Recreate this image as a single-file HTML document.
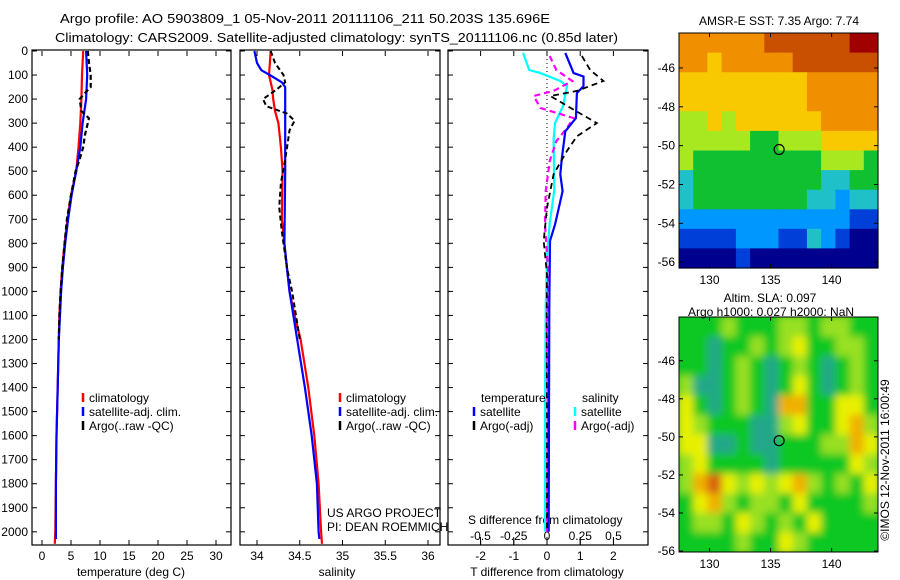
<!DOCTYPE html>
<html><head><meta charset="utf-8"><style>
html,body{margin:0;padding:0;background:#fff;}
svg{display:block;font-family:"Liberation Sans",sans-serif;}
text{font-size:12px;fill:#000;}
</style></head><body>
<svg id="fig" width="900" height="580" viewBox="0 0 900 580">
<defs>
<filter id="blur" x="-10%" y="-10%" width="120%" height="120%"><feGaussianBlur stdDeviation="4"/></filter>
<clipPath id="clipSla"><rect x="679" y="317" width="199" height="235"/></clipPath>
</defs>
<text x="60" y="23" textLength="490" lengthAdjust="spacingAndGlyphs" style="font-size:13px">Argo profile: AO 5903809_1 05-Nov-2011 20111106_211 50.203S 135.696E</text>
<text x="55" y="42" textLength="563" lengthAdjust="spacingAndGlyphs" style="font-size:13px">Climatology: CARS2009. Satellite-adjusted climatology: synTS_20111106.nc (0.85d later)</text>
<g id="g"></g>
</svg>
<script>
// ---- data ----
const depthTicks=[0,100,200,300,400,500,600,700,800,900,1000,1100,1200,1300,1400,1500,1600,1700,1800,1900,2000];
const tempTicks=[0,5,10,15,20,25,30];
const salTicks=[34,34.5,35,35.5,36];
const salTickLabels=["34","34.5","35","35.5","36"];
const tdTicks=[-2,-1,0,1,2];
const sdTicks=[-0.5,-0.25,0,0.25,0.5];
const sdTickLabels=["-0.5","-0.25","0","0.25","0.5"];

const tClimDepth=[0,100,200,300,400,500,600,700,800,900,1000,1100,1200,1400,1600,1800,2000,2050];
const tClimVal=[7.1,6.9,6.8,6.6,6.3,5.9,5.0,4.4,3.9,3.5,3.2,3.0,2.9,2.7,2.5,2.4,2.3,2.2];
const tSatDepth=[0,100,200,300,400,500,600,700,800,900,1000,1100,1200,1400,1600,1800,2000,2030];
const tSatVal=[7.6,7.8,7.6,7.0,6.6,5.9,5.1,4.5,4.0,3.6,3.3,3.1,2.9,2.7,2.5,2.4,2.4,2.4];
const tArgoDepth=[0,50,100,150,180,200,250,280,300,350,400,450,500,600,700,800,900,1000,1100,1200];
const tArgoVal=[7.9,8.1,8.4,8.4,7.2,6.5,6.8,8.1,7.9,7.4,7.1,6.5,5.8,5.0,4.3,3.9,3.5,3.2,3.0,2.9];

const sClimDepth=[0,100,160,200,250,300,400,500,700,900,1000,1100,1200,1400,1600,1800,2000,2050];
const sClimVal=[34.16,34.14,34.18,34.19,34.21,34.25,34.28,34.30,34.29,34.35,34.38,34.44,34.51,34.60,34.67,34.72,34.75,34.76];
const sSatDepth=[0,50,80,100,130,150,200,500,800,900,1000,1200,1400,1600,1800,2000,2030];
const sSatVal=[33.97,34.0,34.05,34.15,34.29,34.33,34.33,34.33,34.32,34.35,34.38,34.47,34.56,34.64,34.70,34.72,34.73];
const sArgoDepth=[0,50,100,130,160,200,230,260,290,330,380,450,550,650,750,900,1000,1200];
const sArgoVal=[34.16,34.21,34.31,34.33,34.23,34.07,34.11,34.35,34.44,34.38,34.36,34.33,34.28,34.26,34.29,34.35,34.41,34.50];

const dSSatDepth=[8,79,92,125,146,229,300,369,578,717,855,1065,1500,2000];
const dSSatVal=[-0.18,-0.134,-0.05,0.1,0.15,0.12,0.06,0.05,0.055,0.02,0.0,-0.01,-0.015,-0.015];
const dSArgoDepth=[21,79,125,166,187,237,279,320,375,458,583,722,930,1140,1500,2000];
const dSArgoVal=[0.02,0.07,0.19,0.05,-0.10,-0.05,0.2,0.15,0.07,0.02,-0.01,-0.015,0.01,0.0,0.005,0.0];
const dTSatDepth=[8,92,106,146,175,279,334,444,513,583,722,790,1065,1500,2000];
const dTSatVal=[0.55,0.8,1.1,1.1,0.9,0.87,0.55,0.45,0.4,0.47,0.24,0.09,0.07,0.06,0.05];
const dTArgoDepth=[21,79,125,166,187,244,300,355,416,513,652,790,930,1140,1500,2000];
const dTArgoVal=[1.05,1.3,1.7,0.9,0.1,0.8,1.5,0.9,0.6,0.2,0.0,-0.1,0.0,-0.01,0.0,0.0];

const lonTicks=[130,135,140];
const latTicks=[-46,-48,-50,-52,-54,-56];
const sstGrid=[
"77777788888899","77677777888888","66666666677777","66666666677777",
"55656666667777","55555445556666","54444444445554","34444444443344",
"34444444433233","22222222222211","11112221132100","00001000000000"];
const slaGrid=[
"44454445545544","44344545644554","44345434543454","53345434643454",
"64345437744664","65444335644675","66334334445576","56444434444465",
"57865656754546","46754554644445","45546545464444","44445446544444"];
const argoLon=135.7, argoLat=-50.2;

// ---- helpers ----
const NS="http://www.w3.org/2000/svg";
const G=document.getElementById('g');
function el(tag,attrs,parent){const e=document.createElementNS(NS,tag);for(const k in attrs)e.setAttribute(k,attrs[k]);(parent||G).appendChild(e);return e;}
const TOP=51,BOT=545;
function yD(d){return 51+d*0.2404;}
const panels=[
 {x0:32,x1:231,fx:v=>42+v*5.8},
 {x0:240,x1:440,fx:v=>257+(v-34)*85.5},
 {x0:448,x1:648,fx:v=>547+v*33.2}
];
const fS=v=>547+v*133;

function line(xs,ys,fx,color,dash,w,name){
  const pts=xs.map((v,i)=>fx(v).toFixed(1)+','+yD(ys[i]).toFixed(1)).join(' ');
  const p=el('polyline',{points:pts,fill:'none',stroke:color,'stroke-width':w||2.2});
  if(dash)p.setAttribute('stroke-dasharray',dash);
  
  
}
function txt(x,y,s,anchor,name,extra){
  const t=el('text',Object.assign({x:x,y:y,'text-anchor':anchor||'start'},extra||{}));t.textContent=s;
  
  
  return t;
}

// frames and ticks
panels.forEach((p,i)=>{
  const r=el('rect',{x:p.x0,y:TOP-1,width:p.x1-p.x0,height:BOT-TOP+1,fill:'none',stroke:'#000','stroke-width':1.2});
  
  
  depthTicks.forEach(d=>{
    el('line',{x1:p.x0,x2:p.x0+5,y1:yD(d),y2:yD(d),stroke:'#000'});
    el('line',{x1:p.x1-5,x2:p.x1,y1:yD(d),y2:yD(d),stroke:'#000'});
  });
});
depthTicks.forEach(d=>txt(28,yD(d)+4,String(d),'end','depth-tick-label'));
tempTicks.forEach(v=>{const x=panels[0].fx(v);el('line',{x1:x,x2:x,y1:TOP,y2:TOP+5,stroke:'#000'});el('line',{x1:x,x2:x,y1:BOT-5,y2:BOT,stroke:'#000'});txt(x,560,String(v),'middle','temp-tick-label');});
salTicks.forEach((v,i)=>{const x=panels[1].fx(v);el('line',{x1:x,x2:x,y1:TOP,y2:TOP+5,stroke:'#000'});el('line',{x1:x,x2:x,y1:BOT-5,y2:BOT,stroke:'#000'});txt(x,560,salTickLabels[i],'middle','sal-tick-label');});
tdTicks.forEach(v=>{const x=panels[2].fx(v);el('line',{x1:x,x2:x,y1:TOP,y2:TOP+5,stroke:'#000'});el('line',{x1:x,x2:x,y1:BOT-5,y2:BOT,stroke:'#000'});txt(x,560,String(v),'middle','tdiff-tick-label');});
sdTicks.forEach((v,i)=>{const x=fS(v);el('line',{x1:x,x2:x,y1:BOT-8,y2:BOT,stroke:'#000'});txt(x,540,sdTickLabels[i],'middle','sdiff-tick-label');});
txt(131,576,'temperature (deg C)','middle','x-axis-title-temperature');
txt(337,576,'salinity','middle','x-axis-title-salinity');
txt(547,576,'T difference from climatology','middle','x-axis-title-tdiff');
txt(468,524,'S difference from climatology','start','sdiff-axis-title');
txt(327,517,'US ARGO PROJECT','start','project-label');
txt(327,531,'PI: DEAN ROEMMICH','start','pi-label');

// zero line
const zl=el('line',{x1:547,x2:547,y1:TOP,y2:yD(700),stroke:'#000','stroke-dasharray':'1,3'});



// series
line(tClimVal,tClimDepth,panels[0].fx,'#f00',null,2.2,'temp-climatology-line');
line(tSatVal,tSatDepth,panels[0].fx,'#00f',null,2.2,'temp-satellite-line');
line(tArgoVal,tArgoDepth,panels[0].fx,'#000','5,3',2.2,'temp-argo-line');
line(sClimVal,sClimDepth,panels[1].fx,'#f00',null,2.2,'sal-climatology-line');
line(sSatVal,sSatDepth,panels[1].fx,'#00f',null,2.2,'sal-satellite-line');
line(sArgoVal,sArgoDepth,panels[1].fx,'#000','5,3',2,'sal-argo-line');
line(dSSatVal,dSSatDepth,fS,'#0ff',null,2.2,'sdiff-satellite-line');
line(dSArgoVal,dSArgoDepth,fS,'#f0f','6,4',2.2,'sdiff-argo-line');
line(dTSatVal,dTSatDepth,panels[2].fx,'#00f',null,2.2,'tdiff-satellite-line');
line(dTArgoVal,dTArgoDepth,panels[2].fx,'#000','6,4',1.8,'tdiff-argo-line');

// legends
function legItem(x,y,color,label,name){
  const m=el('line',{x1:x,x2:x,y1:y-9,y2:y,stroke:color,'stroke-width':2.5});
  
  
  txt(x+6,y,label,'start',name);
}
legItem(83,402,'#f00','climatology','legend-climatology');
legItem(83,416,'#00f','satellite-adj. clim.','legend-satellite');
legItem(83,430,'#000','Argo(..raw -QC)','legend-argo');
legItem(340,402,'#f00','climatology','legend-climatology-2');
legItem(340,416,'#00f','satellite-adj. clim.','legend-satellite-2');
legItem(340,430,'#000','Argo(..raw -QC)','legend-argo-2');
txt(481,402,'temperature','start','legend-header-temperature');
txt(582,402,'salinity','start','legend-header-salinity');
legItem(474,416,'#00f','satellite','legend-t-satellite');
legItem(474,430,'#000','Argo(-adj)','legend-t-argo');
legItem(575,416,'#0ff','satellite','legend-s-satellite');
legItem(575,430,'#f0f','Argo(-adj)','legend-s-argo');

// maps
const pal=['#00008f','#0040d8','#0098ff','#20c0c8','#10c030','#a8e820','#f8c800','#f09000','#c85000','#a00000'];
const palSla=['#00008f','#0040d8','#0098ff','#20a888','#10c820','#98e020','#e8f000','#f0b000','#d86010','#a00000'];
function map(y0,y1,latTop,latBot,grid,colors,name,smooth){
  const x0=679,x1=878,lonL=127.5,lonR=143.8;
  const fx=l=>x0+(l-lonL)/(lonR-lonL)*(x1-x0);
  const fy=l=>y0+(latTop-l)/(latTop-latBot)*(y1-y0);
  const rows=grid.length,cols=grid[0].length;
  const cw=(x1-x0)/cols,ch=(y1-y0)/rows;
  const outer=el('g',smooth?{'clip-path':'url(#clipSla)'}:{});
  
  
  const inner=el('g',smooth?{filter:'url(#blur)'}:{},outer);
  if(smooth){
    const bg=el('rect',{x:x0-10,y:y0-10,width:x1-x0+20,height:y1-y0+20,fill:colors[4]},inner);
    
    
  }
  grid.forEach((row,r)=>{for(let c=0;c<cols;c++){
    const cell=el('rect',{x:(x0+c*cw).toFixed(1),y:(y0+r*ch).toFixed(1),width:(cw+0.6).toFixed(1),height:(ch+0.6).toFixed(1),fill:colors[+row[c]]},inner);
    
    
  }});
  const fr=el('rect',{x:x0,y:y0,width:x1-x0,height:y1-y0,fill:'none',stroke:'#000'});
  
  
  lonTicks.forEach(l=>{const x=fx(l);el('line',{x1:x,x2:x,y1:y0,y2:y0+4,stroke:'#000'});el('line',{x1:x,x2:x,y1:y1-4,y2:y1,stroke:'#000'});txt(x,y1+16,String(l),'middle',name+'-lon-label');});
  latTicks.forEach(l=>{const y=fy(l);el('line',{x1:x0,x2:x0+4,y1:y,y2:y,stroke:'#000'});el('line',{x1:x1-4,x2:x1,y1:y,y2:y,stroke:'#000'});txt(x0-4,y+4,String(l),'end',name+'-lat-label');});
  const c=el('circle',{cx:fx(argoLon),cy:fy(argoLat),r:5,fill:'none',stroke:'#000','stroke-width':1.2});
  
  
}
map(33,268,-44.2,-56.3,sstGrid,pal,'sst-map',false);
map(317,552,-43.7,-56.05,slaGrid,palSla,'sla-map',true);
txt(779,25,'AMSR-E SST: 7.35 Argo: 7.74','middle','sst-map-title');
txt(770,302,'Altim. SLA: 0.097','middle','sla-map-title-1');
txt(771,316,'Argo h1000: 0.027 h2000: NaN','middle','sla-map-title-2');
txt(0,0,'©IMOS 12-Nov-2011 16:00:49','middle','timestamp-label',{transform:'translate(889,460) rotate(-90)'});
</script>
</body></html>
